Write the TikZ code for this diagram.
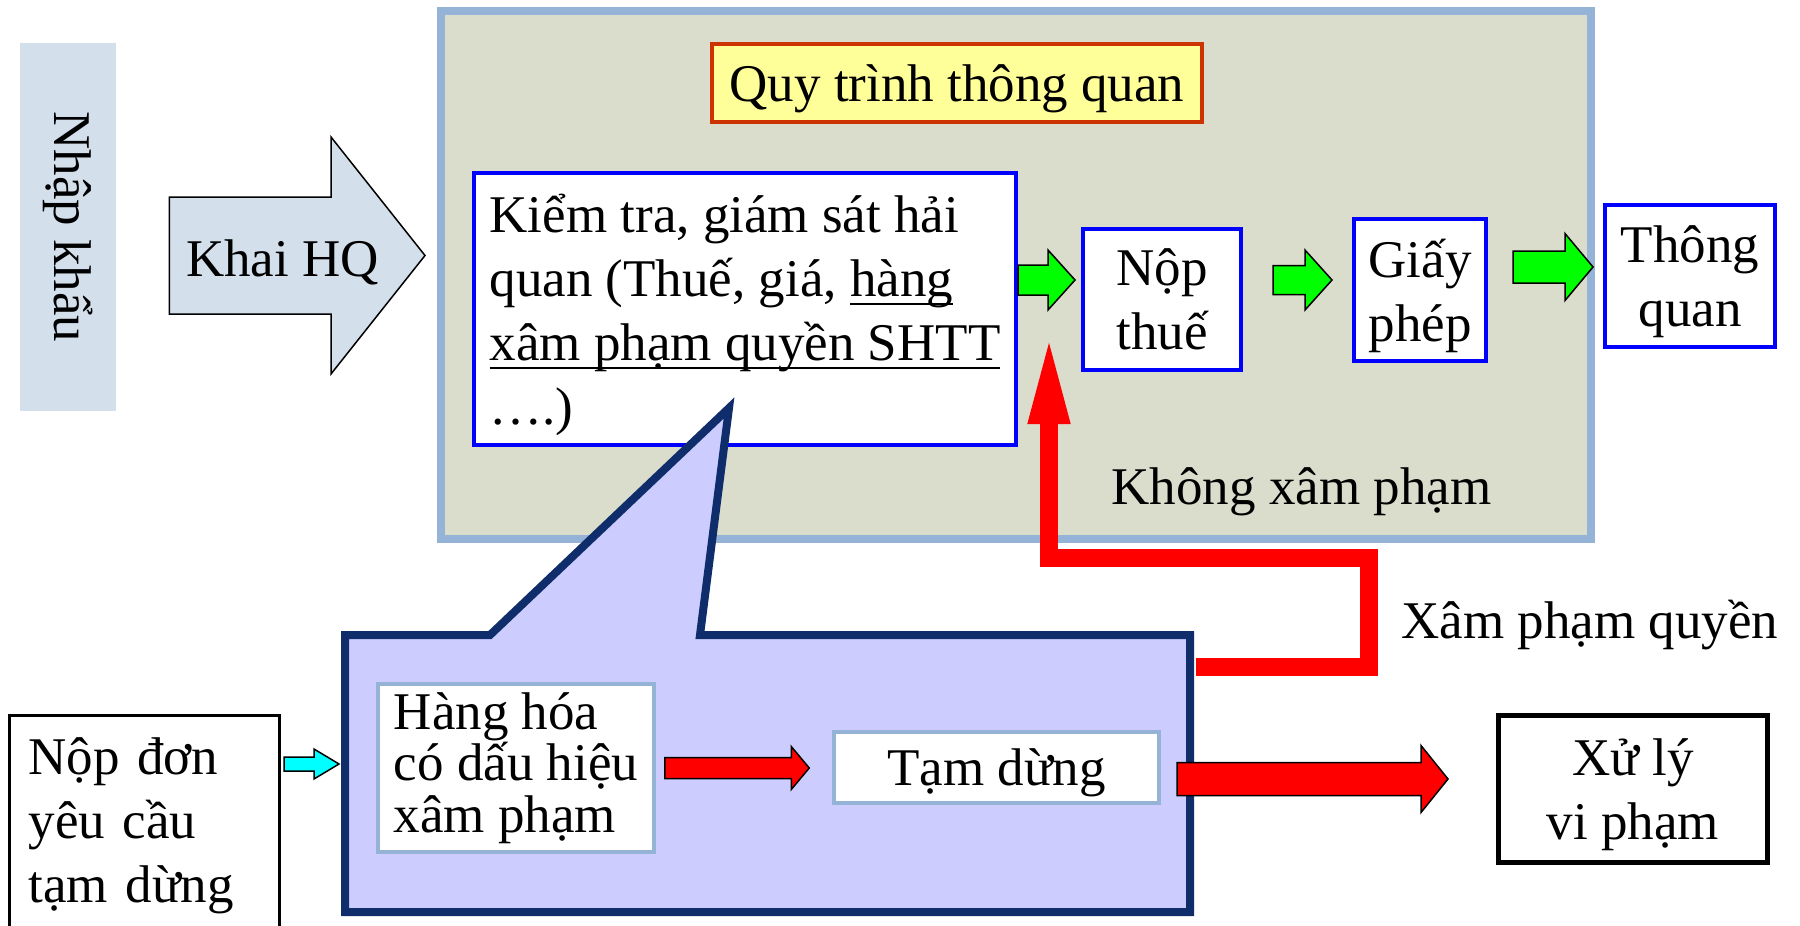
\documentclass[tikz,border=0pt]{standalone}
\usepackage{fontspec}
\setmainfont{Liberation Serif}
\usepackage{graphicx}
\usepackage{tikz}
\usetikzlibrary{arrows.meta,calc,positioning}

\definecolor{panelfill}{HTML}{DADCCC}
\definecolor{panelline}{HTML}{95B3D7}
\definecolor{nhapfill}{HTML}{D3DFEB}
\definecolor{titlefill}{HTML}{FFFF99}
\definecolor{titleline}{HTML}{CC3300}
\definecolor{bubblefill}{HTML}{CCCCFF}
\definecolor{bubbleline}{HTML}{0F2D6B}
\definecolor{requestfill}{HTML}{00FFFF}

\newlength{\undlwidth}
\newcommand{\undl}[1]{\settowidth{\undlwidth}{#1}\rlap{\rule[-0.17em]{\undlwidth}{0.04em}}#1}

% fat arrow pointing right: fill, start, end, half shaft, half head, head length
\newcommand{\blockarrow}[6]{%
  \draw[fill=#1, line width=0.75pt] let \p1=#2, \p2=#3 in
    (\x1,\y1+#4) -- (\x2-#6,\y1+#4) -- (\x2-#6,\y1+#5) -- (\x2,\y1)
    -- (\x2-#6,\y1-#5) -- (\x2-#6,\y1-#4) -- (\x1,\y1-#4) -- cycle;}

\begin{document}
\begin{tikzpicture}[x=0.5pt,y=-0.5pt,
	every node/.style={font=\fontsize{26.5}{32}\selectfont},
	panel/.style={draw=panelline,fill=panelfill,line width=4pt},
	nhapbox/.style={fill=nhapfill,inner sep=0pt},
	titlebox/.style={draw=titleline,fill=titlefill,line width=2pt,inner sep=0pt},
	bluebox/.style={draw=blue,fill=white,line width=2pt,inner sep=0pt,align=center,text depth=0pt},
	lightbox/.style={draw=panelline,fill=white,line width=1.75pt,inner sep=0pt},
	blackbox/.style={draw=black,fill=white,line width=1.5pt,inner sep=0pt},
	bubble/.style={draw=bubbleline,fill=bubblefill,line width=4pt},
	violation/.style={draw=red,line width=9pt,-{Triangle[length=46pt,width=18.5pt]}}]
	\useasboundingbox (0,0) rectangle (1800,926);

	\node[panel,minimum width=575pt,minimum height=264pt] at (1016,275) (panel) {};
	\node[nhapbox,minimum width=48pt,minimum height=184pt] at (68,227) (nhap) {\rotatebox{-90}{Nhập khẩu}};
	\blockarrow{nhapfill}{($(nhap.east)+(53,28.5)$)}{([xshift=-6pt]panel.west)}{29.25pt}{59.25pt}{47pt}
	\node[anchor=base] at (282.5,276) (khai) {Khai HQ};

	\node[titlebox,minimum width=245pt,minimum height=39pt,text depth=0pt] at (957,83) (title) {Quy trình thông quan};
	\node[bluebox,align=left,minimum width=271pt,minimum height=136pt] at (745,309) (kiem)
		{Kiểm tra, giám sát hải\\ quan (Thuế, giá, \undl{hàng}\\ \undl{xâm phạm quyền SHTT}\\ ….)};
	\node[bluebox,minimum width=79pt,minimum height=70.5pt] at (1162,299.5) (nop) {Nộp\\ thuế};
	\node[bluebox,minimum width=66pt,minimum height=71pt] at (1420,290) (giay) {Giấy\\ phép};
	\node[bluebox,minimum width=85pt,minimum height=71pt] at (1690,276) (thong) {Thông\\ quan};
	\blockarrow{green}{(kiem.east |- 0,280)}{([xshift=-3pt]nop.west)}{7.5pt}{15pt}{13.5pt}
	\blockarrow{green}{($(nop.east |- 0,280)+(30,0)$)}{([xshift=-10pt]giay.west)}{7.25pt}{15pt}{13.5pt}
	\blockarrow{green}{($(giay.east |- 0,267)+(25,0)$)}{([xshift=-5pt]thong.west)}{8pt}{16.75pt}{14pt}
	\node[anchor=base] at (1301.5,504) (khong) {Không xâm phạm};

	\path (345,635) coordinate (bnw) (1190,912) coordinate (bse) (1049,332) coordinate (pass);
	\draw[bubble] (bse) -- (bnw |- bse) -- (bnw) -- (490,635) -- (729,408) -- (700,635) -- (bse |- bnw) -- cycle;
	\node[lightbox,align=left,minimum width=138pt,minimum height=84pt,font=\fontsize{26.5}{25.75}\selectfont] at (516,768) (hang)
		{Hàng hóa\\ có dấu hiệu\\ xâm phạm};
	\node[lightbox,minimum width=162.5pt,minimum height=35.5pt,text depth=0pt] at (996.5,767.5) (tam) {Tạm dừng};
	\node[blackbox,align=left,text width=116pt,inner xsep=9.5pt,minimum height=110pt] at (144.5,825.5) (don)
		{Nộp đơn\\ yêu cầu\\ tạm dừng};
	\node[blackbox,line width=2.5pt,align=center,minimum width=134.5pt,minimum height=73.5pt,text depth=0pt] at (1633,789) (xuly)
		{Xử lý\\ vi phạm};

	\blockarrow{requestfill}{($(don.east |- 0,764)+(3,0)$)}{([xshift=-3pt]bnw)}{3.5pt}{7.5pt}{12.5pt}
	\blockarrow{red}{($(hang.east |- 0,768)+(9,0)$)}{([xshift=-11.5pt]tam.west)}{5.25pt}{10.75pt}{9pt}
	\blockarrow{red}{($(bse |- 0,779)+(-13,0)$)}{([xshift=-24pt]xuly.west)}{8.25pt}{16.75pt}{13.5pt}

	\draw[violation] ($(bse |- 0,667)+(6,0)$) -- (1369,667) -- (1369,558) -- (1049,558) -- (pass);
	\node[anchor=base] at (1590,638) (xam) {Xâm phạm quyền};
\end{tikzpicture}
\end{document}
